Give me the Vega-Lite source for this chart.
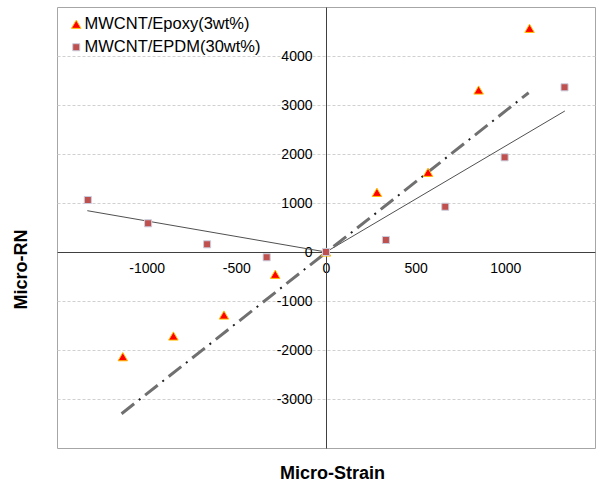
{
  "$schema": "https://vega.github.io/schema/vega-lite/v6.json",
  "autosize": "none",
  "width": 538,
  "height": 441,
  "padding": {"left": 57, "top": 7, "right": 2, "bottom": 36},
  "background": "white",
  "config": {
    "font": "Liberation Sans",
    "view": {"stroke": "#a6a6a6", "strokeWidth": 1}
  },
  "datasets": {
    "pts": [
      {"series": "MWCNT/Epoxy(3wt%)", "strain": -1133, "rn": -2137},
      {"series": "MWCNT/Epoxy(3wt%)", "strain": -851, "rn": -1714},
      {"series": "MWCNT/Epoxy(3wt%)", "strain": -569, "rn": -1286},
      {"series": "MWCNT/Epoxy(3wt%)", "strain": -283, "rn": -455},
      {"series": "MWCNT/Epoxy(3wt%)", "strain": 0, "rn": 0},
      {"series": "MWCNT/Epoxy(3wt%)", "strain": 284, "rn": 1218},
      {"series": "MWCNT/Epoxy(3wt%)", "strain": 569, "rn": 1627},
      {"series": "MWCNT/Epoxy(3wt%)", "strain": 851, "rn": 3306},
      {"series": "MWCNT/Epoxy(3wt%)", "strain": 1135, "rn": 4565},
      {"series": "MWCNT/EPDM(30wt%)", "strain": -1328, "rn": 1061},
      {"series": "MWCNT/EPDM(30wt%)", "strain": -992, "rn": 586},
      {"series": "MWCNT/EPDM(30wt%)", "strain": -663, "rn": 157},
      {"series": "MWCNT/EPDM(30wt%)", "strain": -331, "rn": -108},
      {"series": "MWCNT/EPDM(30wt%)", "strain": 0, "rn": 0},
      {"series": "MWCNT/EPDM(30wt%)", "strain": 334, "rn": 245},
      {"series": "MWCNT/EPDM(30wt%)", "strain": 665, "rn": 924},
      {"series": "MWCNT/EPDM(30wt%)", "strain": 996, "rn": 1932},
      {"series": "MWCNT/EPDM(30wt%)", "strain": 1330, "rn": 3361}
    ],
    "dashdot": [
      {"strain": -1140, "rn": -3300},
      {"strain": 1130, "rn": 3250}
    ],
    "solid": [
      {"fit": "neg", "strain": -1331, "rn": 843},
      {"fit": "neg", "strain": 0, "rn": 0},
      {"fit": "pos", "strain": 0, "rn": 0},
      {"fit": "pos", "strain": 1332, "rn": 2878}
    ]
  },
  "layer": [
    {
      "data": {"name": "solid"},
      "mark": {"type": "line", "color": "#505050", "strokeWidth": 1},
      "encoding": {
        "x": {
          "field": "strain", "type": "quantitative",
          "scale": {"domain": [-1500, 1500], "nice": false},
          "axis": {
            "title": "Micro-Strain",
            "values": [-1000, -500, 0, 500, 1000],
            "labelExpr": "datum.value + ''",
            "offset": -196,
            "grid": false,
            "ticks": false,
            "domainColor": "#404040",
            "labelFontSize": 14,
            "labelColor": "black",
            "labelPadding": 9,
            "titleFontSize": 18,
            "titleFontWeight": "bold",
            "titleColor": "black",
            "titleBaseline": "middle",
            "titleX": 275,
            "titleY": 221
          }
        },
        "y": {
          "field": "rn", "type": "quantitative",
          "scale": {"domain": [-4000, 5000], "nice": false},
          "axis": {
            "title": "Micro-RN",
            "values": [-3000, -2000, -1000, 0, 1000, 2000, 3000, 4000],
            "labelExpr": "datum.value + ''",
            "offset": -269,
            "grid": true,
            "gridColor": "#d0d0d0",
            "gridDash": [3, 2],
            "ticks": false,
            "domainColor": "#404040",
            "labelFontSize": 14,
            "labelColor": "black",
            "labelPadding": 14,
            "titleFontSize": 18,
            "titleFontWeight": "bold",
            "titleColor": "black",
            "titleBaseline": "middle",
            "titleX": -305,
            "titleY": 262
          }
        },
        "detail": {"field": "fit"}
      }
    },
    {
      "data": {"name": "dashdot"},
      "mark": {"type": "line", "color": "#707070", "strokeWidth": 3, "strokeDash": [16, 14]},
      "encoding": {
        "x": {"field": "strain", "type": "quantitative"},
        "y": {"field": "rn", "type": "quantitative"}
      }
    },
    {
      "data": {"name": "dashdot"},
      "mark": {"type": "line", "color": "#202020", "strokeWidth": 2, "strokeDash": [2, 28], "strokeDashOffset": 8},
      "encoding": {
        "x": {"field": "strain", "type": "quantitative"},
        "y": {"field": "rn", "type": "quantitative"}
      }
    },
    {
      "data": {"name": "pts"},
      "mark": {"type": "point", "filled": true, "opacity": 1, "strokeWidth": 1},
      "encoding": {
        "x": {"field": "strain", "type": "quantitative"},
        "y": {"field": "rn", "type": "quantitative"},
        "color": {
          "field": "series", "type": "nominal",
          "scale": {"domain": ["MWCNT/Epoxy(3wt%)", "MWCNT/EPDM(30wt%)"], "range": ["#ff0000", "#c0504d"]},
          "legend": {
            "title": null,
            "orient": "none",
            "legendX": 11,
            "legendY": 9,
            "padding": 0,
            "rowPadding": 6,
            "labelFontSize": 16.5,
            "labelLimit": 400,
            "labelColor": "black",
            "labelOffset": 0,
            "symbolStrokeWidth": 1
          }
        },
        "stroke": {
          "field": "series", "type": "nominal",
          "scale": {"domain": ["MWCNT/Epoxy(3wt%)", "MWCNT/EPDM(30wt%)"], "range": ["#ffc000", "#c9cfe0"]},
          "legend": null
        },
        "shape": {
          "field": "series", "type": "nominal",
          "scale": {"domain": ["MWCNT/Epoxy(3wt%)", "MWCNT/EPDM(30wt%)"], "range": ["triangle-up", "square"]},
          "legend": null
        },
        "size": {
          "field": "series", "type": "nominal",
          "scale": {"domain": ["MWCNT/Epoxy(3wt%)", "MWCNT/EPDM(30wt%)"], "range": [90, 50]},
          "legend": null
        }
      }
    }
  ]
}
